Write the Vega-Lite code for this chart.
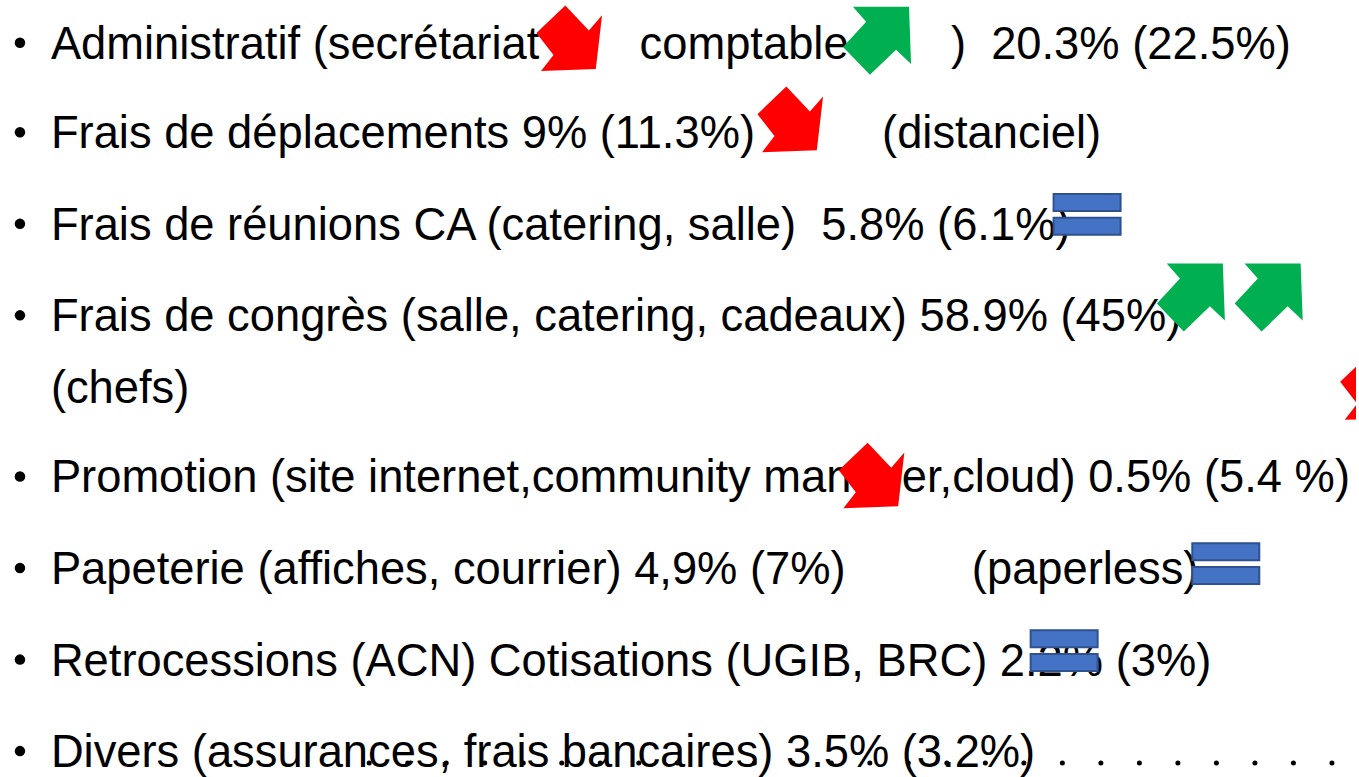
{
  "$schema": "https://vega.github.io/schema/vega-lite/v6.json",
  "width": 1359,
  "height": 777,
  "autosize": {"type": "fit", "contains": "padding"},
  "padding": 0,
  "background": "white",
  "config": {"view": {"stroke": null}},
  "datasets": {
    "textes": [
      {"x": 51, "y": 59, "texte": "Administratif (secrétariat"},
      {"x": 641, "y": 59, "texte": "comptable"},
      {"x": 953, "y": 59, "texte": ")\u00a0 20.3% (22.5%)"},
      {"x": 51, "y": 149, "texte": "Frais de déplacements 9% (11.3%)"},
      {"x": 884, "y": 149, "texte": "(distanciel)"},
      {"x": 51, "y": 241, "texte": "Frais de réunions CA (catering, salle)\u00a0 5.8% (6.1%)"},
      {"x": 51, "y": 333, "texte": "Frais de congrès (salle, catering, cadeaux) 58.9% (45%)"},
      {"x": 51, "y": 405, "texte": "(chefs)"},
      {"x": 51, "y": 495, "texte": "Promotion (site internet,community manager,cloud) 0.5% (5.4 %)"},
      {"x": 51, "y": 587, "texte": "Papeterie (affiches, courrier) 4,9% (7%)"},
      {"x": 974, "y": 587, "texte": "(paperless)"},
      {"x": 51, "y": 679, "texte": "Retrocessions (ACN) Cotisations (UGIB, BRC) 2.2% (3%)"},
      {"x": 51, "y": 771, "texte": "Divers (assurances, frais bancaires) 3.5% (3.2%)"}
    ],
    "puces": [
      {"x": 20, "y": 43}, {"x": 20, "y": 133}, {"x": 20, "y": 225}, {"x": 20, "y": 317},
      {"x": 20, "y": 479}, {"x": 20, "y": 571}, {"x": 20, "y": 663}, {"x": 20, "y": 755}
    ],
    "symboles": [
      {"tendance": "baisse", "x": 570.5, "y": 38.5},
      {"tendance": "baisse", "x": 792, "y": 120},
      {"tendance": "baisse", "x": 873.5, "y": 478},
      {"tendance": "baisse", "x": 1376, "y": 389},
      {"tendance": "hausse", "x": 879, "y": 41},
      {"tendance": "hausse", "x": 1193.5, "y": 299},
      {"tendance": "hausse", "x": 1271.5, "y": 299},
      {"tendance": "stable", "x": 1089.5, "y": 215.5},
      {"tendance": "stable", "x": 1228.5, "y": 566.5},
      {"tendance": "stable", "x": 1066.5, "y": 654}
    ],
    "pointilles": [
      {"x": 370, "x2": 1359, "y": 767}
    ]
  },
  "encoding": {
    "x": {"field": "x", "type": "quantitative", "scale": {"domain": [0, 1359], "nice": false, "zero": false}, "axis": null},
    "y": {"field": "y", "type": "quantitative", "scale": {"domain": [0, 777], "nice": false, "zero": false, "reverse": true}, "axis": null}
  },
  "layer": [
    {
      "data": {"name": "textes"},
      "mark": {"type": "text", "font": "Liberation Sans", "fontSize": 45.3, "align": "left", "baseline": "alphabetic", "color": "black"},
      "encoding": {"text": {"field": "texte", "type": "nominal"}}
    },
    {
      "data": {"name": "puces"},
      "mark": {"type": "point", "shape": "circle", "filled": true, "opacity": 1, "size": 110, "color": "black", "strokeWidth": 0}
    },
    {
      "data": {"name": "pointilles"},
      "mark": {"type": "rule", "color": "black", "strokeWidth": 5, "strokeCap": "round", "strokeDash": [0.01, 38.5]},
      "encoding": {"x2": {"field": "x2"}}
    },
    {
      "data": {"name": "symboles"},
      "transform": [{"filter": "datum.tendance === 'baisse'"}],
      "mark": {"type": "point", "filled": true, "opacity": 1, "clip": true, "size": 4300, "color": "#FF0000", "strokeWidth": 0,
        "shape": "M-0.12,-1L0.6,-0.24L1,-0.7L0.81,0.94L-0.86,1L-0.48,0.51L-1,-0.16Z"}
    },
    {
      "data": {"name": "symboles"},
      "transform": [{"filter": "datum.tendance === 'hausse'"}],
      "mark": {"type": "point", "filled": true, "opacity": 1, "clip": true, "size": 4624, "color": "#00B050", "strokeWidth": 0,
        "shape": "M0.94,-1L1,0.68L0.56,0.26L-0.21,1L-1,0.18L-0.32,-0.56L-0.71,-1Z"}
    },
    {
      "data": {"name": "symboles"},
      "transform": [{"filter": "datum.tendance === 'stable'"}],
      "mark": {"type": "point", "filled": true, "opacity": 1, "clip": true, "size": 4489, "fill": "#4472C4", "stroke": "#2F528F", "strokeWidth": 2,
        "shape": "M-1,-0.61H1V-0.1H-1ZM-1,0.1H1V0.61H-1Z"}
    }
  ]
}
